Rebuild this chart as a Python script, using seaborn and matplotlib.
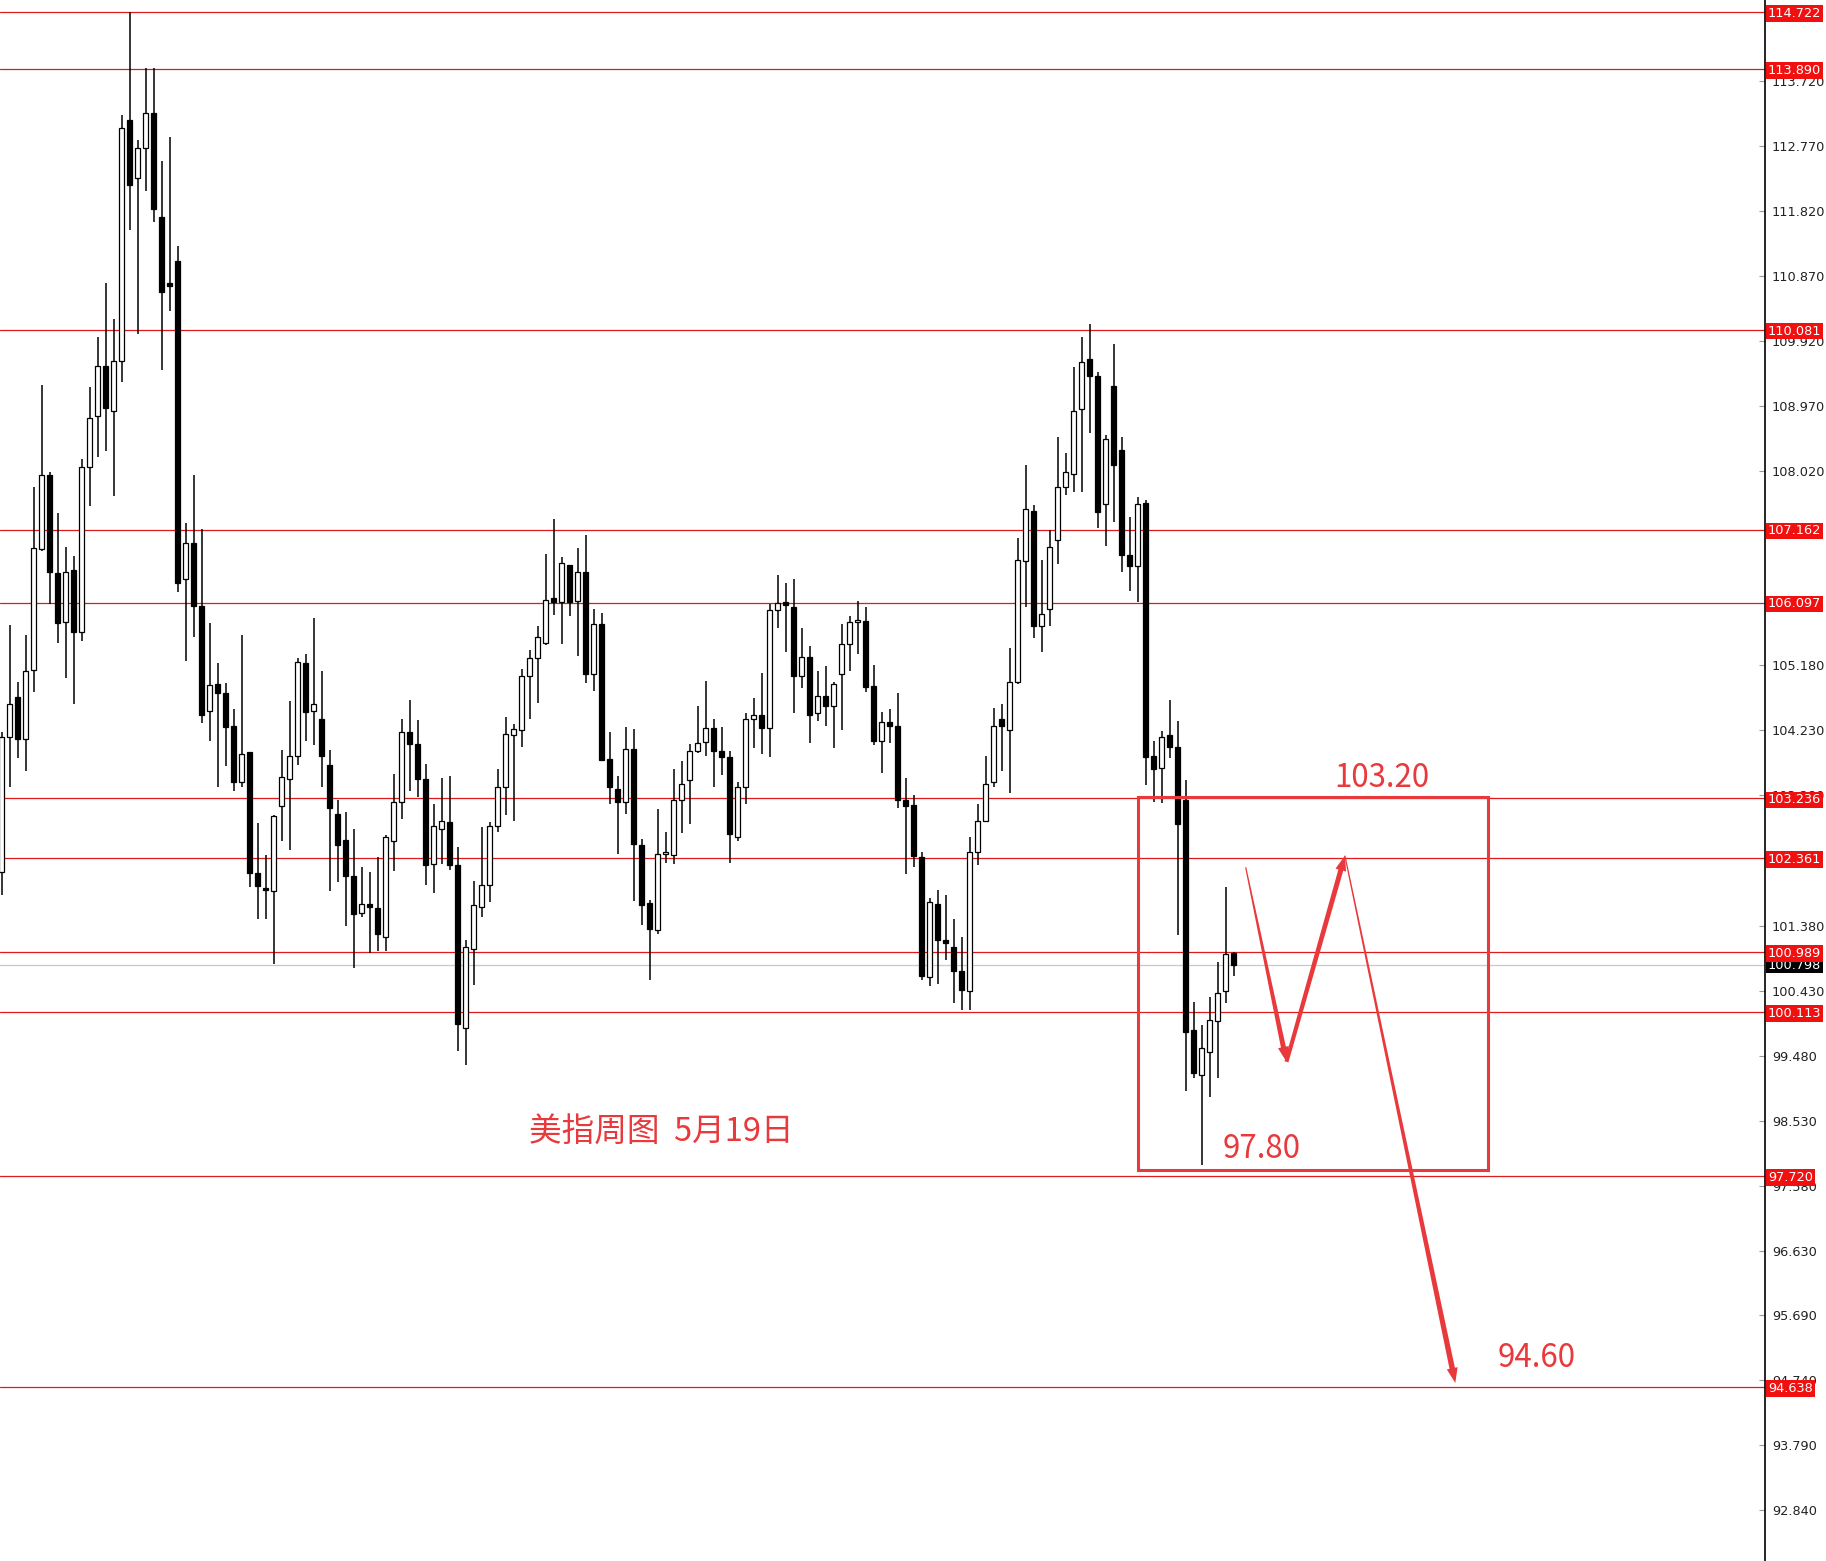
import numpy as np
import pandas as pd
import matplotlib
matplotlib.use("Agg")
import matplotlib.pyplot as plt
import matplotlib.transforms as mtransforms
from matplotlib.patches import Polygon, Rectangle
import seaborn as sns

# weekly candles (DXY)
opens = [
    102.16, 104.14, 104.72, 104.10, 105.11, 106.88, 107.96, 106.53, 105.81, 106.57,
    105.66, 108.07, 108.82, 109.55, 108.89, 109.63, 113.15, 112.29, 112.74, 113.24,
    111.73, 110.76, 111.09, 106.44, 106.96, 106.05, 104.52, 104.91, 104.77, 104.29,
    103.47, 103.91, 102.15, 101.92, 101.89, 103.12, 103.52, 103.86, 105.22, 104.52,
    104.40, 103.72, 103.01, 102.63, 102.10, 101.56, 101.69, 101.64, 101.21, 102.62,
    103.18, 104.20, 104.03, 103.52, 102.28, 102.79, 102.89, 102.26, 99.89, 101.04,
    101.65, 101.97, 102.83, 103.41, 104.16, 104.24, 105.03, 105.28, 105.51, 106.16,
    106.11, 106.64, 106.12, 106.54, 105.06, 105.78, 103.81, 103.37, 103.18, 103.96,
    102.56, 101.71, 101.31, 102.42, 102.41, 103.21, 103.50, 103.93, 104.06, 104.26,
    103.93, 103.84, 102.68, 103.40, 104.40, 104.46, 104.26, 105.99, 106.10, 106.03,
    105.03, 105.30, 104.48, 104.73, 104.58, 105.05, 105.49, 105.81, 105.83, 104.88,
    104.08, 104.35, 104.30, 103.21, 103.14, 102.38, 100.63, 101.69, 101.17, 101.06,
    100.71, 100.43, 102.46, 102.91, 103.48, 104.40, 104.24, 104.93, 106.70, 107.43,
    105.75, 106.00, 107.01, 107.79, 107.97, 108.92, 109.66, 109.40, 107.53, 109.26,
    108.32, 106.79, 106.63, 107.55, 103.86, 103.68, 104.16, 103.99, 103.21, 99.85,
    99.20, 99.54, 99.98, 100.43, 100.98]

highs = [
    104.21, 105.77, 104.93, 105.63, 107.78, 109.27, 108.00, 107.40, 106.91, 106.78,
    108.19, 109.25, 109.98, 110.76, 110.24, 113.21, 114.72, 112.85, 113.91, 113.91,
    112.54, 112.90, 111.31, 107.26, 107.96, 107.17, 105.80, 105.22, 104.92, 104.54,
    105.62, 103.92, 102.88, 102.41, 102.99, 103.94, 104.66, 105.29, 105.35, 105.87,
    105.10, 103.95, 103.22, 103.04, 102.79, 102.23, 102.16, 102.38, 102.70, 103.60,
    104.40, 104.68, 104.38, 103.74, 103.16, 103.53, 103.57, 102.53, 101.17, 102.03,
    102.82, 102.89, 103.67, 104.42, 104.33, 105.13, 105.41, 105.76, 106.81, 107.32,
    106.76, 106.65, 106.90, 107.09, 106.00, 105.94, 104.20, 103.57, 104.28, 104.25,
    102.65, 101.75, 103.08, 102.75, 103.67, 103.79, 104.03, 104.59, 104.95, 104.39,
    104.28, 103.93, 103.48, 104.48, 104.70, 105.07, 106.08, 106.50, 106.38, 106.44,
    105.72, 105.46, 105.10, 105.17, 104.93, 105.79, 105.90, 106.12, 106.03, 105.19,
    104.50, 104.54, 104.77, 103.53, 103.29, 102.46, 101.78, 101.90, 101.83, 101.47,
    101.21, 102.68, 103.15, 103.86, 104.56, 104.61, 105.43, 107.04, 108.10, 107.52,
    106.72, 107.15, 108.52, 108.28, 109.53, 109.97, 110.17, 109.47, 108.55, 109.87,
    108.51, 107.35, 107.64, 107.60, 104.07, 104.22, 104.68, 104.37, 103.51, 100.26,
    99.93, 100.34, 100.85, 101.95, 101.00]

lows = [
    101.83, 103.40, 103.83, 103.64, 104.79, 106.85, 106.07, 105.50, 105.00, 104.61,
    105.53, 107.50, 108.22, 108.31, 107.65, 109.32, 111.53, 110.02, 112.10, 111.66,
    109.49, 110.36, 106.25, 105.25, 105.59, 104.34, 104.08, 103.41, 103.71, 103.35,
    103.40, 101.94, 101.48, 101.47, 100.82, 102.61, 102.48, 103.73, 104.07, 104.01,
    103.41, 101.88, 102.02, 101.37, 100.76, 101.50, 100.98, 101.01, 101.01, 102.17,
    102.93, 103.35, 103.26, 101.97, 101.86, 102.28, 102.19, 99.55, 99.34, 100.51,
    101.50, 101.73, 102.74, 102.99, 102.90, 103.99, 104.39, 104.63, 105.48, 105.92,
    105.49, 105.90, 105.32, 104.92, 104.81, 103.79, 103.15, 102.43, 103.01, 101.74,
    101.39, 100.58, 101.26, 102.30, 102.28, 102.73, 102.87, 103.90, 103.86, 103.40,
    103.58, 102.29, 102.61, 103.15, 103.97, 103.89, 103.84, 105.72, 105.37, 104.49,
    104.85, 104.05, 104.36, 104.30, 103.97, 104.23, 105.10, 105.34, 104.79, 104.01,
    103.61, 104.05, 103.09, 102.13, 102.24, 100.58, 100.49, 100.53, 100.87, 100.25,
    100.15, 100.14, 102.27, 102.90, 103.40, 103.64, 103.32, 104.91, 106.03, 105.58,
    105.38, 105.76, 106.66, 107.66, 107.71, 107.71, 108.57, 107.18, 106.92, 107.27,
    106.54, 106.26, 106.11, 103.43, 103.19, 103.17, 103.83, 101.24, 98.97, 99.15,
    97.88, 98.87, 99.15, 100.25, 100.65]

closes = [
    104.14, 104.62, 104.10, 105.09, 106.89, 107.96, 106.55, 105.80, 106.55, 105.66,
    108.08, 108.79, 109.55, 108.94, 109.62, 113.02, 112.19, 112.74, 113.24, 111.84,
    110.63, 110.72, 106.38, 106.97, 106.04, 104.46, 104.89, 104.77, 104.28, 103.48,
    103.89, 102.15, 101.96, 101.90, 102.98, 103.55, 103.86, 105.23, 104.50, 104.62,
    103.85, 103.09, 102.56, 102.10, 101.55, 101.70, 101.65, 101.25, 102.68, 103.18,
    104.20, 104.03, 103.52, 102.27, 102.84, 102.91, 102.26, 99.94, 101.06, 101.68,
    101.97, 102.83, 103.41, 104.17, 104.25, 105.03, 105.28, 105.59, 106.14, 106.11,
    106.67, 106.11, 106.55, 105.06, 105.79, 103.80, 103.40, 103.18, 103.96, 102.57,
    101.68, 101.33, 102.42, 102.43, 103.21, 103.44, 103.93, 104.05, 104.26, 103.93,
    103.84, 102.71, 103.40, 104.40, 104.46, 104.26, 105.99, 106.09, 106.06, 105.03,
    105.30, 104.46, 104.73, 104.59, 104.90, 105.49, 105.81, 105.84, 104.86, 104.08,
    104.35, 104.30, 103.21, 103.13, 102.39, 100.65, 101.72, 101.17, 101.12, 100.71,
    100.44, 102.46, 102.91, 103.45, 104.30, 104.29, 104.93, 106.72, 107.47, 105.75,
    105.93, 106.91, 107.79, 108.00, 108.90, 109.61, 109.40, 107.42, 108.49, 108.10,
    106.79, 106.63, 107.53, 103.84, 103.67, 104.14, 103.99, 102.87, 99.82, 99.22,
    99.59, 100.00, 100.40, 100.96, 100.80]

# horizontal levels and current price
levels = [114.722, 113.890, 110.081, 107.162, 106.097, 103.236, 102.361,
          100.989, 100.113, 97.720, 94.638]
last_price = 100.798

# price scale ticks (those fully hidden under level labels are left out)
tick_values = [113.720, 112.770, 111.820, 110.870, 109.920, 108.970, 108.020,
               105.180, 104.230, 103.280, 101.380, 100.430, 99.480, 98.530,
               97.580, 96.630, 95.690, 94.740, 93.790, 92.840]

# drawn annotations (x in candle index, y in price)
box_x = [142.0, 185.8]
box_y = [97.81, 103.25]
path_x = [155.5, 160.6, 167.9, 181.7]
path_y = [102.23, 99.39, 102.40, 94.70]
note_texts = ["103.20", "97.80", "94.60"]
note_x = [172.5, 157.5, 191.9]
note_y = [103.53, 98.12, 95.07]
title_text = "美指周图  5月19日"
title_x, title_y = 82.4, 98.37

df = pd.DataFrame({"open": opens, "high": highs, "low": lows, "close": closes})
df["i"] = np.arange(len(df))
df["up"] = df["close"] >= df["open"]

sns.set_theme(style="white")
plt.rcParams["font.family"] = ["DejaVu Sans", "Noto Sans CJK SC"]

W, H = 1826, 1561
plot_w = 1765
fig = plt.figure(figsize=(W / 100, H / 100), dpi=100, facecolor="white")
ax = fig.add_axes([0, 0, plot_w / W, 1])
ax.set_facecolor("white")

x0 = -1.7 / 8
ax.set_xlim(x0, x0 + plot_w / 8)
ax.set_ylim(92.10, 114.896)

red = "#e01a1a"
note_red = "#e8393c"

# levels
ax.axhline(last_price, color="#c8c8c8", lw=0.9, zorder=1)
for lv in levels:
    ax.axhline(lv, color=red, lw=0.9, zorder=2)

# candles
ax.vlines(df["i"], df["low"], df["high"], color="black", lw=1.1, zorder=3)
body_lo = df[["open", "close"]].min(axis=1)
body_h = (df["close"] - df["open"]).abs().clip(lower=0.03)
ax.bar(df["i"], body_h, bottom=body_lo, width=0.6,
       color=np.where(df["up"], "white", "black"),
       edgecolor="black", linewidth=0.9, zorder=4)

# right price axis
sns.despine(ax=ax, left=True, bottom=True, top=True, right=False)
ax.spines["right"].set_color("black")
ax.spines["right"].set_linewidth(1.2)
ax.set_xticks([])
ax.yaxis.tick_right()
ax.set_yticks(tick_values)
ax.set_yticklabels([f"{v:.3f}" for v in tick_values])
ax.tick_params(axis="y", direction="in", length=4, width=0.8, color="#999999",
               labelsize=9.3, pad=5, labelcolor="#222222", right=True, left=False)

lab_tr = mtransforms.blended_transform_factory(ax.transAxes, ax.transData)
ax.text(1.0 + 3 / plot_w, last_price, f"{last_price:.3f}", transform=lab_tr,
        ha="left", va="center", fontsize=9.3, color="white", clip_on=False,
        zorder=9, bbox=dict(boxstyle="square,pad=0.12", fc="black", ec="none"))
for lv in levels:
    ax.text(1.0 + 3 / plot_w, lv - 0.02, f"{lv:.3f}", transform=lab_tr, ha="left",
            va="center", fontsize=9.3, color="white", clip_on=False, zorder=10,
            bbox=dict(boxstyle="square,pad=0.14", fc="#f01010", ec="none"))

# scenario box
ax.add_patch(Rectangle((box_x[0], box_y[0]), box_x[1] - box_x[0], box_y[1] - box_y[0],
                       fill=False, ec=note_red, lw=2.2, zorder=6))


def tapered_arrow(p0, p1, w0, w1, hl=15, hw=11):
    a = ax.transData.transform(p0)
    b = ax.transData.transform(p1)
    d = b - a
    u = d / np.hypot(*d)
    n = np.array([-u[1], u[0]])
    base = b - u * hl
    pts = [a + n * w0 / 2, base + n * w1 / 2, base + n * hw / 2, b,
           base - n * hw / 2, base - n * w1 / 2, a - n * w0 / 2]
    pts = ax.transData.inverted().transform(np.array(pts))
    ax.add_patch(Polygon(pts, closed=True, fc=note_red, ec="none", zorder=7))


widths = [(1.2, 5.0), (4.0, 5.0), (1.2, 5.5)]
for k in range(len(path_x) - 1):
    tapered_arrow((path_x[k], path_y[k]), (path_x[k + 1], path_y[k + 1]), *widths[k])

cjk = ["Noto Sans CJK SC", "DejaVu Sans"]
for s, tx, ty in zip(note_texts, note_x, note_y):
    ax.text(tx, ty, s, color=note_red, fontsize=22.5, ha="center", va="center",
            family=cjk, zorder=8)
ax.text(title_x, title_y, title_text, color=note_red, fontsize=23.5, ha="center",
        va="center", family=cjk, zorder=8)

fig.savefig("out.png", dpi=100, facecolor="white")
